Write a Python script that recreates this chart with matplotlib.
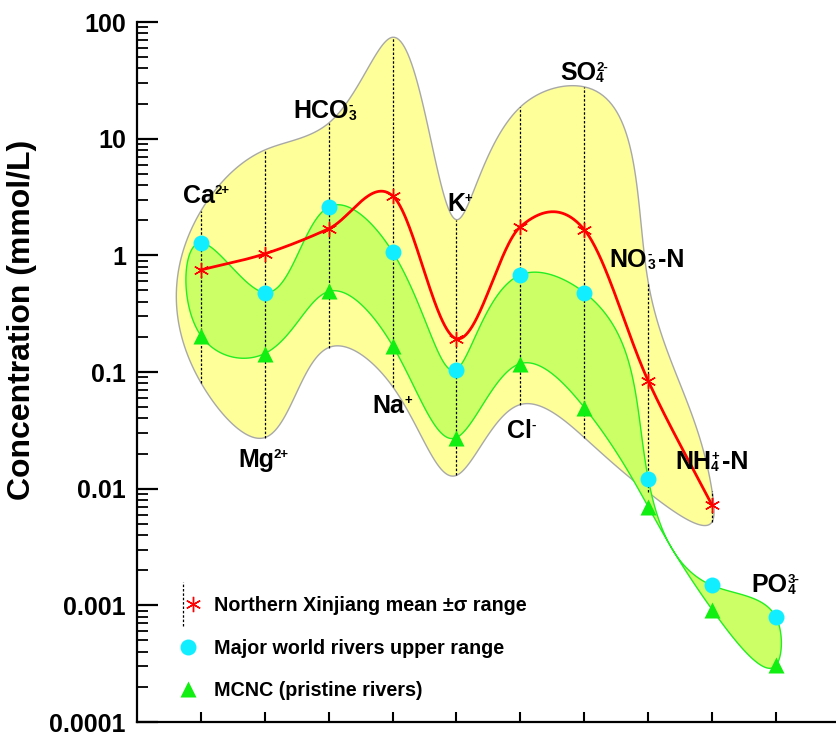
import numpy as np
import matplotlib
matplotlib.use("Agg")
import matplotlib.pyplot as plt
from matplotlib.legend_handler import HandlerTuple, HandlerErrorbar
from matplotlib.container import ErrorbarContainer
from matplotlib.ticker import LogLocator, FixedLocator, NullFormatter

# ion labels: base text, subscript, superscript, trailing text
ion_base = ["Ca", "Mg", "HCO", "Na", "K", "Cl", "SO", "NO", "NH", "PO"]
ion_sub = ["", "", "3", "", "", "", "4", "3", "4", "4"]
ion_sup = ["2+", "2+", "-", "+", "+", "-", "2-", "-", "+", "3-"]
ion_tail = ["", "", "", "", "", "", "", "-N", "-N", ""]

# Northern Xinjiang: mean and range (mmol/L), no PO4
nx_mean = [0.75, 1.03, 1.69, 3.24, 0.193, 1.76, 1.66, 0.084, 0.0072]
nx_high = [2.4, 8.0, 13.6, 74.0, 2.02, 18.7, 27.8, 0.59, 0.0095]
nx_low = [0.081, 0.0274, 0.162, 0.075, 0.013, 0.0526, 0.0274, 0.0093, 0.0052]

# major world rivers upper range
world_upper = [1.28, 0.48, 2.6, 1.07, 0.105, 0.68, 0.48, 0.0122, 0.00148, 0.00079]

# MCNC (pristine rivers)
mcnc = [0.205, 0.144, 0.49, 0.168, 0.0274, 0.118, 0.0496, 0.0070, 0.00092, 0.000306]

# label anchors (left edge in x index, baseline concentration)
label_x = [0.72, 1.58, 2.44, 3.68, 4.85, 5.79, 6.62, 7.40, 8.42, 9.62]
label_y = [2.82, 0.0152, 15.07, 0.0449, 2.41, 0.0274, 31.9, 0.798, 0.0146, 0.00129]

YS = 116.8 / 63.9  # one decade vs one category, in pixels


def catmull_rom(y, per=60):
    y = np.asarray(y, float)
    p = np.concatenate([[2 * y[0] - y[1]], y, [2 * y[-1] - y[-2]]])
    t = np.linspace(0, 1, per, endpoint=False)
    h00 = 2 * t**3 - 3 * t**2 + 1
    h10 = t**3 - 2 * t**2 + t
    h01 = -2 * t**3 + 3 * t**2
    h11 = t**3 - t**2
    xs, ys = [], []
    for i in range(1, len(p) - 2):
        m0 = (p[i + 1] - p[i - 1]) / 2
        m1 = (p[i + 2] - p[i]) / 2
        xs.append(i + t)
        ys.append(h00 * p[i] + h10 * m0 + h01 * p[i + 1] + h11 * m1)
    xs.append([len(y)])
    ys.append([y[-1]])
    return np.concatenate(xs), np.concatenate(ys)


def closed_spline(px, py, per=40):
    P = np.column_stack([px, py])
    n = len(P)
    h = np.hypot(*(np.roll(P, -1, axis=0) - P).T)
    out = []
    for c in range(2):
        v = P[:, c]
        d = (np.roll(v, -1) - v) / h
        A = np.zeros((n, n))
        b = np.zeros(n)
        for i in range(n):
            A[i, (i - 1) % n] = h[i - 1]
            A[i, i] = 2 * (h[i - 1] + h[i])
            A[i, (i + 1) % n] = h[i]
            b[i] = 6 * (d[i] - d[i - 1])
        M = np.linalg.solve(A, b)
        seg = []
        for i in range(n):
            j = (i + 1) % n
            hi = h[i]
            s = np.linspace(0, hi, per, endpoint=False)
            seg.append(M[i] * (hi - s) ** 3 / (6 * hi) + M[j] * s ** 3 / (6 * hi)
                       + (v[i] / hi - M[i] * hi / 6) * (hi - s)
                       + (v[j] / hi - M[j] * hi / 6) * s)
        out.append(np.concatenate(seg))
    return out[0], out[1]


def envelope(upper, lower):
    xu = np.arange(1, len(upper) + 1)
    px = np.concatenate([xu, xu[::-1]])
    py = np.log10(np.concatenate([upper, lower[::-1]])) * YS
    sx, sy = closed_spline(px, py)
    return sx, 10 ** (sy / YS)


def chem_label(ax, x, y, base, sub, sup, tail):
    t = ax.text(x, y, base, fontsize=18, ha="left", va="baseline", zorder=7)
    last = t
    if sub:
        last = ax.annotate(sub, xy=(1, 0), xycoords=t, xytext=(0, 0),
                           textcoords="offset pixels", fontsize=10,
                           ha="left", va="bottom", zorder=7)
    if sup:
        s = ax.annotate(sup, xy=(1, 1), xycoords=t, xytext=(0, -1),
                        textcoords="offset pixels", fontsize=9.5,
                        ha="left", va="top", zorder=7)
        if not sub:
            last = s
    if tail:
        ax.annotate(tail, xy=(1, 0), xycoords=(last, t), xytext=(3, 0),
                    textcoords="offset pixels", fontsize=18,
                    ha="left", va="bottom", zorder=7)


plt.rcParams["font.family"] = "Liberation Sans"
plt.rcParams["font.weight"] = "bold"

fig = plt.figure(figsize=(8.36, 7.34), dpi=100)
ax = fig.add_axes([137 / 836, 12 / 734, 699 / 836, 700 / 734])

x9 = np.arange(1, 10)
x10 = np.arange(1, 11)

# yellow envelope of the Northern Xinjiang range
ex, ey = envelope(np.array(nx_high), np.array(nx_low))
ax.fill(ex, ey, facecolor="#FFFF99", edgecolor="#A8A8A8", lw=1, zorder=1)

# green band between MCNC and world rivers upper range
gx, gy = envelope(np.array(world_upper), np.array(mcnc))
ax.fill(gx, gy, facecolor="#CCFF66", edgecolor="#22EE22", lw=1, zorder=2)

# range bars
mean = np.array(nx_mean)
eb = ax.errorbar(x9, mean, yerr=[mean - np.array(nx_low), np.array(nx_high) - mean],
                 fmt="none", ecolor="black", elinewidth=0.9, capsize=0, zorder=3)
eb[2][0].set_linestyle((0, (2, 1.5)))

# mean curve
cx, cy = catmull_rom(np.log10(mean))
ax.plot(cx, 10 ** cy, color="#FF0000", lw=2, zorder=4)
stars, = ax.plot(x9, mean, ls="none", marker=(6, 2, 0), ms=11, mew=1,
                 color="#FF0000", zorder=6)

dots, = ax.plot(x10, world_upper, ls="none", marker="o", ms=11.5, color="#11EEFF",
                mec="none", zorder=6)
tris, = ax.plot(x10, mcnc, ls="none", marker="^", ms=11.5, color="#11EE11",
                mec="none", zorder=6)

for i in range(len(ion_base)):
    chem_label(ax, label_x[i], label_y[i], ion_base[i], ion_sub[i], ion_sup[i], ion_tail[i])

ax.set_yscale("log")
ax.set_ylim(1e-4, 100)
ax.set_xlim(0, 699 / 63.9)

ax.xaxis.set_major_locator(FixedLocator(x10))
ax.set_xticklabels([])
ax.yaxis.set_major_locator(FixedLocator([1e-4, 1e-3, 1e-2, 0.1, 1, 10, 100]))
ax.set_yticklabels(["0.0001", "0.001", "0.01", "0.1", "1", "10", "100"])
ax.yaxis.set_minor_locator(LogLocator(base=10, subs=np.arange(2, 10)))
ax.yaxis.set_minor_formatter(NullFormatter())
ax.tick_params(axis="y", which="major", direction="in", length=15, width=1.6,
               labelsize=18, pad=8)
ax.tick_params(axis="y", which="minor", direction="in", length=8, width=1.3)
ax.tick_params(axis="x", which="major", direction="in", length=7, width=1.5)
for side in ["top", "right"]:
    ax.spines[side].set_visible(False)
for side in ["left", "bottom"]:
    ax.spines[side].set_linewidth(1.6)

fig.text(0.026, (734 - 320) / 734, "Concentration (mmol/L)", rotation=90,
         fontsize=23, ha="center", va="center")

leg = ax.legend([(eb, stars), dots, tris],
                ["Northern Xinjiang mean \u00b1\u03c3 range",
                 "Major world rivers upper range", "MCNC (pristine rivers)"],
                handler_map={tuple: HandlerTuple(ndivide=None),
                             ErrorbarContainer: HandlerErrorbar(yerr_size=1.1)},
                loc="center left", bbox_to_anchor=(0.0587, 0.1057), frameon=False,
                fontsize=14.2, handlelength=1.0, handletextpad=0.8,
                labelspacing=1.2, borderpad=0, borderaxespad=0)

fig.savefig("out.png", dpi=100)
